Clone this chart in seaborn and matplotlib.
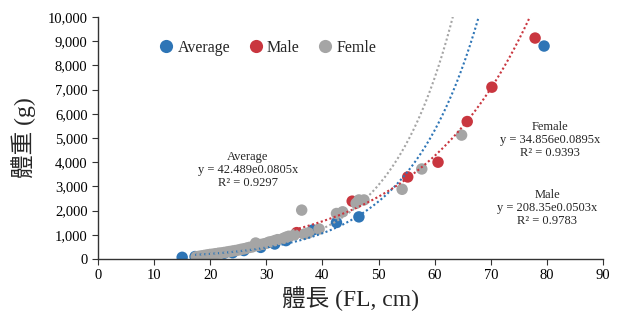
import numpy as np
import pandas as pd
import seaborn as sns
import matplotlib.pyplot as plt
from matplotlib.ticker import FuncFormatter

# Average series
avg_len = [15.0, 17.3, 20.0, 22.5, 24.0, 26.0, 29.0, 31.5, 33.5, 38.3, 42.5, 46.5, 79.5]
avg_wt = [70, 100, 170, 240, 260, 350, 480, 620, 760, 1200, 1510, 1740, 8800]

# Male series
male_len = [35.4, 45.3, 55.2, 60.6, 65.8, 70.2, 77.9]
male_wt = [1090, 2390, 3390, 4000, 5680, 7100, 9130]

# Female series
fem_len = [17.5, 18.0, 18.5, 19.0, 19.5, 20.0, 20.5, 21.0, 21.5, 22.0, 22.5, 23.0,
           23.5, 24.0, 24.5, 25.0, 25.5, 26.0, 26.5, 27.0, 27.5, 28.1, 28.5, 29.0,
           29.5, 30.0, 30.5, 31.0, 31.5, 32.0, 33.0, 33.5, 34.0, 35.0, 36.3, 36.8,
           37.5, 39.4, 42.5, 43.6, 46.0, 46.5, 47.4, 54.2, 57.7, 64.8]
fem_wt = [90, 110, 130, 150, 170, 190, 200, 220, 240, 250, 270, 290,
          310, 330, 350, 370, 400, 420, 450, 480, 500, 660, 560, 600,
          620, 650, 700, 720, 760, 800, 850, 900, 940, 1000, 2020, 1030,
          1080, 1240, 1880, 1950, 2300, 2440, 2440, 2880, 3720, 5120]

# trendline parameters (y = a * e^(b x)) and x range
trends = {
    "Average": (42.489, 0.0805, 17.3, 70.0),
    "Male": (208.35, 0.0503, 35.0, 79.0),
    "Femle": (34.856, 0.0895, 17.5, 66.0),
}

colors = {"Average": "#2E75B6", "Male": "#C9363F", "Femle": "#A5A5A5"}

df = pd.concat([
    pd.DataFrame({"len": avg_len, "wt": avg_wt, "grp": "Average"}),
    pd.DataFrame({"len": male_len, "wt": male_wt, "grp": "Male"}),
    pd.DataFrame({"len": fem_len, "wt": fem_wt, "grp": "Femle"}),
], ignore_index=True)

sns.set_style("ticks")
plt.rcParams["font.family"] = ["Liberation Serif", "Noto Sans CJK TC", "DejaVu Sans"]

fig, ax = plt.subplots(figsize=(6.28, 3.2), dpi=100)
fig.subplots_adjust(left=98 / 628, right=603 / 628, bottom=1 - 259 / 320, top=1 - 17 / 320)

sns.scatterplot(data=df, x="len", y="wt", hue="grp", palette=colors, s=68,
                edgecolor="none", ax=ax, zorder=2)

for name, (a, b, x0, x1) in trends.items():
    xs = np.linspace(x0, x1, 200)
    sns.lineplot(x=xs, y=a * np.exp(b * xs), color=colors[name], ls=(0, (1, 1.2)),
                 lw=1.5, ax=ax, zorder=3, legend=False)

ax.set_xlim(0, 90)
ax.set_ylim(0, 10000)
ax.set_xticks(range(0, 91, 10))
ax.set_yticks(range(0, 10001, 1000))
ax.yaxis.set_major_formatter(FuncFormatter(lambda v, p: f"{int(v):,}"))
ax.tick_params(labelsize=10.5, length=4, width=0.8, colors="#333333", labelcolor="black")
for s in ["left", "bottom"]:
    ax.spines[s].set_color("#333333")
    ax.spines[s].set_linewidth(1.0)
sns.despine(ax=ax)

ax.set_xlabel("體長 (FL, cm)", fontsize=17, labelpad=3)
ax.set_ylabel("體重 (g)", fontsize=17, labelpad=8)

ax.text(26.7, 3680, "Average\ny = 42.489e0.0805x\nR² = 0.9297", ha="center", va="center",
        fontsize=9, linespacing=1.1)
ax.text(80.6, 4920, "Female\ny = 34.856e0.0895x\nR² = 0.9393", ha="center", va="center",
        fontsize=9, linespacing=1.1)
ax.text(80.1, 2110, "Male\ny = 208.35e0.0503x\nR² = 0.9783", ha="center", va="center",
        fontsize=9, linespacing=1.1)

leg = ax.legend(loc="center", bbox_to_anchor=(0.327, 0.872), ncol=3, frameon=False,
                fontsize=11.5, handletextpad=-0.3, columnspacing=0.6, markerscale=1.15)

plt.savefig("out.png", dpi=100)
